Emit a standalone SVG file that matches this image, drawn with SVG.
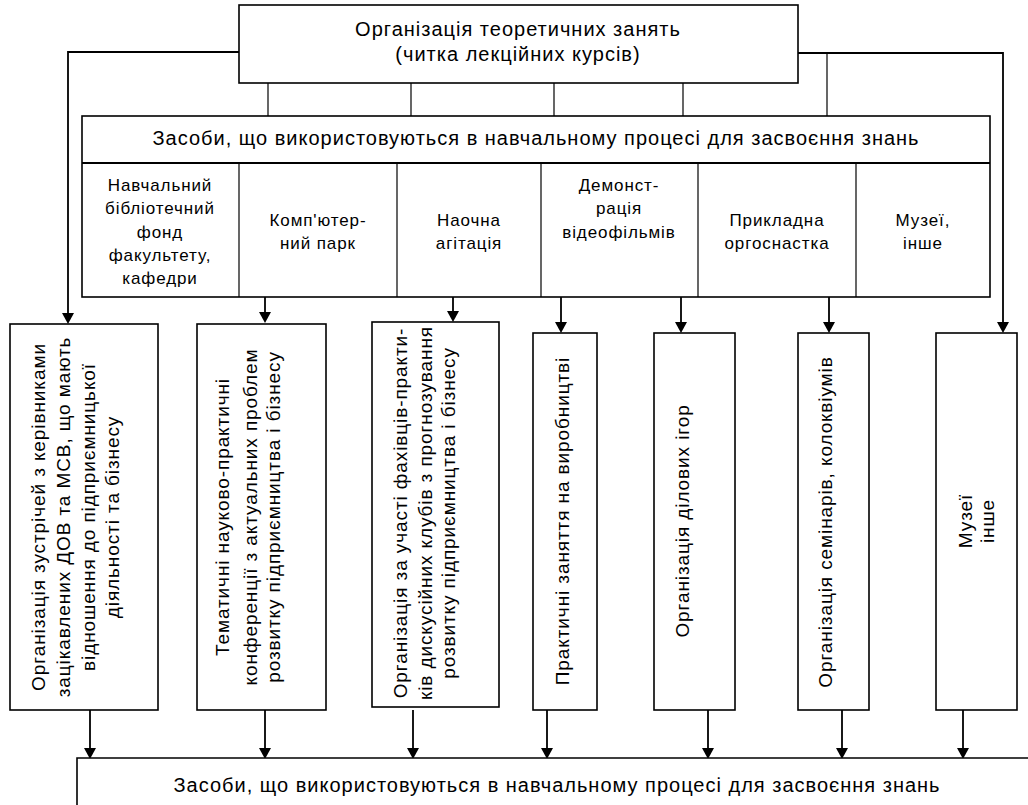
<svg xmlns="http://www.w3.org/2000/svg" width="1028" height="805" viewBox="0 0 1028 805">
<style>
text{font-family:"Liberation Sans",Arial,sans-serif;fill:#000;text-anchor:middle}
.box{fill:#fff;stroke:#000;stroke-width:1.6}
.thin{stroke:#000;stroke-width:1.2;fill:none}
.ln{stroke:#000;stroke-width:1.8;fill:none}
.h{font-size:20px;letter-spacing:1px}
.c{font-size:17px;letter-spacing:0.9px}
.v{font-size:19px;letter-spacing:0.9px}
</style>
<rect width="1028" height="805" fill="#fff"/>
<g id="connectors">
<path class="ln" d="M239,52 H68 V314"/>
<path class="ln" d="M798,53 H1003 V323"/>
<line class="thin" x1="268" y1="83" x2="268" y2="116"/>
<line class="thin" x1="411" y1="83" x2="411" y2="116"/>
<line class="thin" x1="554" y1="83" x2="554" y2="116"/>
<line class="thin" x1="683" y1="83" x2="683" y2="116"/>
<line class="thin" x1="827" y1="52" x2="827" y2="116"/>
<line class="ln" x1="265" y1="297" x2="265" y2="313"/>
<line class="ln" x1="453" y1="297" x2="453" y2="312"/>
<line class="ln" x1="561" y1="297" x2="561" y2="323"/>
<line class="ln" x1="681" y1="297" x2="681" y2="323"/>
<line class="ln" x1="829" y1="297" x2="829" y2="323"/>
<line class="ln" x1="90" y1="710" x2="90" y2="749"/>
<line class="ln" x1="265" y1="710" x2="265" y2="749"/>
<line class="ln" x1="413" y1="710" x2="413" y2="749"/>
<line class="ln" x1="547" y1="710" x2="547" y2="749"/>
<line class="ln" x1="708" y1="710" x2="708" y2="749"/>
<line class="ln" x1="842" y1="710" x2="842" y2="749"/>
<line class="ln" x1="963" y1="710" x2="963" y2="749"/>
<path d="M62,313 L74,313 L68,324 Z"/>
<path d="M997,322 L1009,322 L1003,333 Z"/>
<path d="M259,312 L271,312 L265,323 Z"/>
<path d="M447,311 L459,311 L453,322 Z"/>
<path d="M555,322 L567,322 L561,333 Z"/>
<path d="M675,322 L687,322 L681,333 Z"/>
<path d="M823,322 L835,322 L829,333 Z"/>
<path d="M84,748 L96,748 L90,759 Z"/>
<path d="M259,748 L271,748 L265,759 Z"/>
<path d="M407,748 L419,748 L413,759 Z"/>
<path d="M541,748 L553,748 L547,759 Z"/>
<path d="M702,748 L714,748 L708,759 Z"/>
<path d="M836,748 L848,748 L842,759 Z"/>
<path d="M957,748 L969,748 L963,759 Z"/>
</g>
<g id="top">
<rect class="box" x="239" y="5" width="559" height="78"/>
<text class="h" x="518" y="36">Організація теоретичних занять</text>
<text class="h" x="518" y="61">(читка лекційних курсів)</text>
</g>
<g id="means">
<rect class="box" x="82" y="116" width="908" height="181"/>
<line class="ln" x1="82" y1="163" x2="990" y2="163"/>
<text class="h" x="536" y="145">Засоби, що використовуються в навчальному процесі для засвоєння знань</text>
<line class="thin" x1="239" y1="163" x2="239" y2="297"/>
<line class="thin" x1="397" y1="163" x2="397" y2="297"/>
<line class="thin" x1="541" y1="163" x2="541" y2="297"/>
<line class="thin" x1="698" y1="163" x2="698" y2="297"/>
<line class="thin" x1="856" y1="163" x2="856" y2="297"/>
</g>
<g id="col1"><text class="c"><tspan x="160" y="191">Навчальний</tspan><tspan x="160" y="214">бібліотечний</tspan><tspan x="160" y="238">фонд</tspan><tspan x="160" y="261">факультету,</tspan><tspan x="160" y="284">кафедри</tspan></text></g>
<g id="col2"><text class="c"><tspan x="318" y="226">Комп'ютер-</tspan><tspan x="318" y="249">ний парк</tspan></text></g>
<g id="col3"><text class="c"><tspan x="469" y="226">Наочна</tspan><tspan x="469" y="249">агітація</tspan></text></g>
<g id="col4"><text class="c"><tspan x="619" y="191">Демонст-</tspan><tspan x="619" y="214">рація</tspan><tspan x="619" y="238">відеофільмів</tspan></text></g>
<g id="col5"><text class="c"><tspan x="777" y="226">Прикладна</tspan><tspan x="777" y="249">оргоснастка</tspan></text></g>
<g id="col6"><text class="c"><tspan x="923" y="226">Музеї,</tspan><tspan x="923" y="249">інше</tspan></text></g>
<g id="v1">
<rect class="box" x="10" y="324" width="148" height="386"/>
<text class="v" transform="translate(0,517) rotate(-90)"><tspan x="0" y="45">Організація зустрічей з керівниками</tspan><tspan x="0" y="70">зацікавлених ДОВ та МСВ, що мають</tspan><tspan x="0" y="95">відношення до підприємницької</tspan><tspan x="0" y="119">діяльності та бізнесу</tspan></text>
</g>
<g id="v2">
<rect class="box" x="197" y="324" width="129" height="386"/>
<text class="v" transform="translate(0,517) rotate(-90)"><tspan x="0" y="229">Тематичні науково-практичні</tspan><tspan x="0" y="257">конференції з актуальних проблем</tspan><tspan x="0" y="280">розвитку підприємництва і бізнесу</tspan></text>
</g>
<g id="v3">
<rect class="box" x="372" y="322" width="127" height="385"/>
<text class="v" transform="translate(0,513) rotate(-90)"><tspan x="0" y="407">Організація за участі фахівців-практи-</tspan><tspan x="0" y="432">ків дискусійних клубів з прогнозування</tspan><tspan x="0" y="455">розвитку підприємництва і бізнесу</tspan></text>
</g>
<g id="v4">
<rect class="box" x="533" y="333" width="64" height="377"/>
<text class="v" transform="translate(0,521) rotate(-90)" x="0" y="569">Практичні заняття на виробництві</text>
</g>
<g id="v5">
<rect class="box" x="654" y="333" width="81" height="377"/>
<text class="v" transform="translate(0,521) rotate(-90)" x="0" y="689">Організація ділових ігор</text>
</g>
<g id="v6">
<rect class="box" x="798" y="333" width="71" height="377"/>
<text class="v" transform="translate(0,522) rotate(-90)" x="0" y="832">Організація семінарів, колоквіумів</text>
</g>
<g id="v7">
<rect class="box" x="936" y="333" width="81" height="377"/>
<text class="v" transform="translate(0,521) rotate(-90)"><tspan x="0" y="972">Музеї</tspan><tspan x="0" y="994">інше</tspan></text>
</g>
<g id="bottom">
<path class="box" d="M77,805 V758 H1030"/>
<text class="h" x="557" y="792">Засоби, що використовуються в навчальному процесі для засвоєння знань</text>
</g>
</svg>
